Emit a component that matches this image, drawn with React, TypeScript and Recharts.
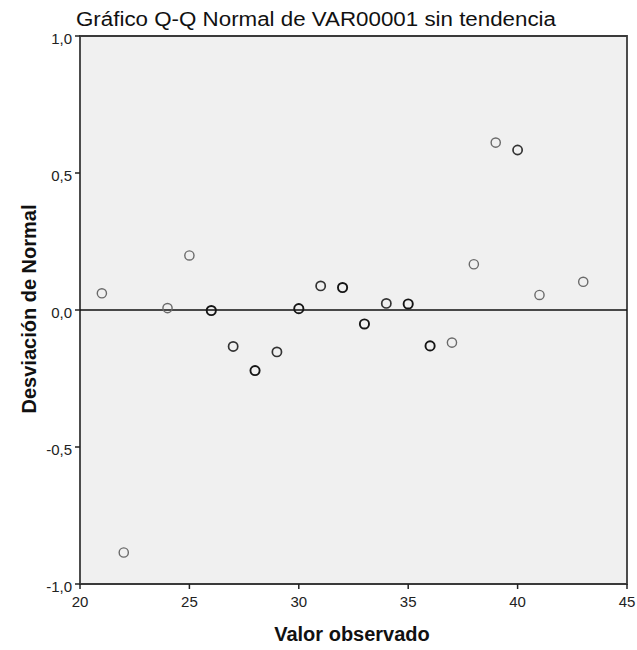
import React from "react";
import {
  ScatterChart,
  Scatter,
  XAxis,
  YAxis,
  CartesianGrid,
  ReferenceLine,
  ReferenceArea,
  Label,
} from "recharts";

const observedValues = [21, 22, 24, 25, 26, 27, 28, 29, 30, 31, 32, 33, 34, 35, 36, 37, 38, 39, 40, 41, 43];
const deviations = [0.061, -0.885, 0.007, 0.199, -0.002, -0.133, -0.221, -0.153, 0.005, 0.088, 0.082, -0.051, 0.024, 0.022, -0.131, -0.119, 0.167, 0.611, 0.584, 0.055, 0.103];
const caseCounts = [1, 1, 1, 1, 3, 2, 3, 2, 3, 2, 3, 3, 2, 3, 3, 1, 1, 1, 2, 1, 1];
const xTicks = [20, 25, 30, 35, 40, 45];
const yTicks = [-1, -0.5, 0, 0.5, 1];

const data = observedValues.map((x, i) => ({ x, y: deviations[i], n: caseCounts[i] }));

const fmt = (v: number) => v.toFixed(1).replace(".", ",");
const fmtX = (v: number) => String(v);

const FONT = "'Liberation Sans', Arial, sans-serif";

const Marker = (props: any) => {
  const { cx, cy, payload } = props;
  const n = payload?.n ?? 1;
  const stroke = n >= 3 ? "#151515" : n === 2 ? "#333333" : "#6a6a6a";
  const sw = n >= 3 ? 1.9 : n === 2 ? 1.7 : 1.4;
  return <circle cx={cx} cy={cy} r={4.6} fill="none" stroke={stroke} strokeWidth={sw} />;
};

const XTick = (props: any) => {
  const { x, y, payload } = props;
  return (
    <text x={x} y={y + 16} textAnchor="middle" fontFamily={FONT} fontSize={15} fill="#222">
      {fmtX(payload.value)}
    </text>
  );
};

const YTick = (props: any) => {
  const { x, y, payload } = props;
  return (
    <text x={x - 1} y={y + 8} textAnchor="end" fontFamily={FONT} fontSize={15} fill="#222">
      {fmt(payload.value)}
    </text>
  );
};

export default function App() {
  return (
    <div style={{ position: "absolute", left: 0, top: 0, width: 637, height: 650, background: "#fff" }}>
      <ScatterChart
        width={637}
        height={650}
        margin={{ top: 36, right: 10, bottom: 0, left: 0 }}
        style={{ fontFamily: FONT }}
      >
        <CartesianGrid fill="#f0f0f0" horizontal={false} vertical={false} />
        <XAxis
          type="number"
          dataKey="x"
          domain={[20, 45]}
          ticks={xTicks}
          height={66}
          tickSize={5}
          axisLine={false}
          tickLine={{ stroke: "#222", strokeWidth: 1.5 }}
          tick={<XTick />}
          interval={0}
        >
          <Label
            content={() => (
              <text x={352} y={641} textAnchor="middle" fontFamily={FONT} fontWeight="bold" fontSize={20} fill="#111">
                Valor observado
              </text>
            )}
          />
        </XAxis>
        <YAxis
          type="number"
          dataKey="y"
          domain={[-1, 1]}
          ticks={yTicks}
          width={80}
          tickSize={5}
          axisLine={false}
          tickLine={{ stroke: "#222", strokeWidth: 1.5 }}
          tick={<YTick />}
          interval={0}
        >
          <Label
            content={() => (
              <text
                x={36}
                y={309}
                transform="rotate(-90 36 309)"
                textAnchor="middle"
                fontFamily={FONT}
                fontWeight="bold"
                fontSize={20}
                fill="#111"
              >
                Desviación de Normal
              </text>
            )}
          />
        </YAxis>
        <ReferenceArea x1={20} x2={45} y1={-1} y2={1} fill="none" stroke="#3a3a3a" strokeWidth={1.8} ifOverflow="visible" />
        <ReferenceLine y={0} stroke="#111" strokeWidth={1.5} />
        <Scatter data={data} shape={<Marker />} isAnimationActive={false} />
        <text
          x={76}
          y={26}
          fontFamily={FONT}
          fontSize={20}
          fill="#111"
          textLength={480}
          lengthAdjust="spacingAndGlyphs"
        >
          Gráfico Q-Q Normal de VAR00001 sin tendencia
        </text>
      </ScatterChart>
    </div>
  );
}
